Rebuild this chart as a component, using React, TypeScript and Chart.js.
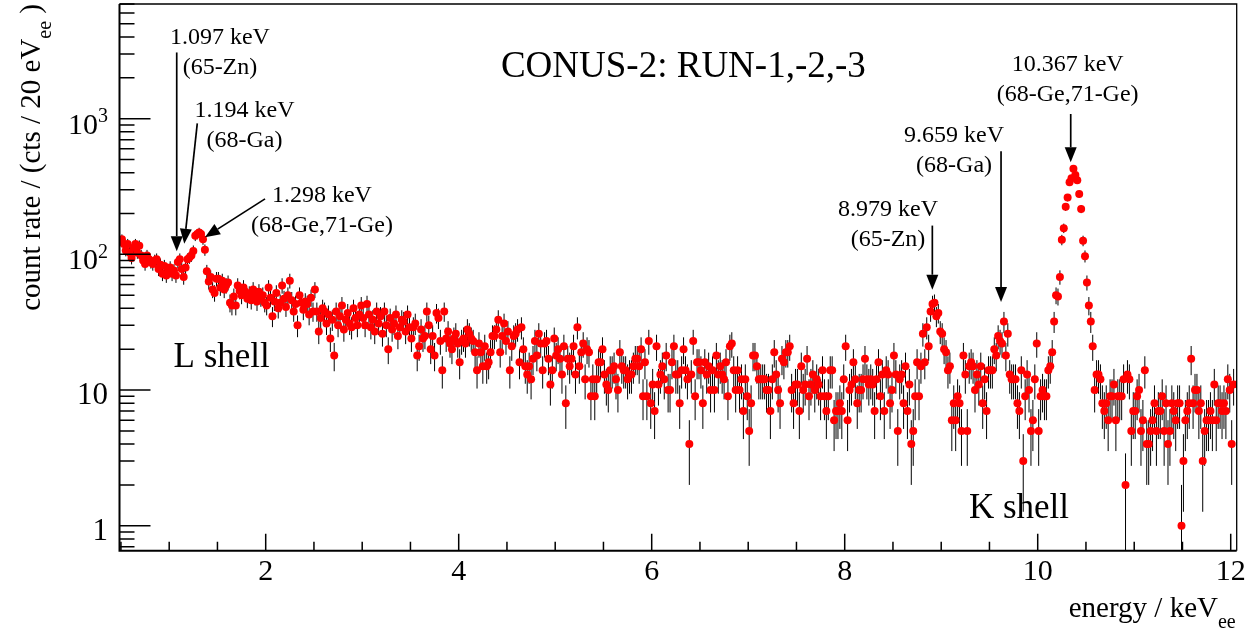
import React, { useEffect, useRef } from "react";
import { Chart, registerables } from "chart.js";

Chart.register(...registerables);

// ---------------- data (counts per 20 eV bin) ----------------
const BIN_START_KEV = 0.5;
const BIN_WIDTH_KEV = 0.02;

// 0.50 - 1.50 keV (L shell region)
const countsL = [
  129, 119, 107, 119, 103, 94, 112, 119, 103, 116, 98, 90, 85, 98, 92, 88, 85, 90, 92, 78, 84, 72, 82, 70, 75,
  80, 72, 76, 70, 88, 92, 78, 68, 80, 92, 95, 98, 106, 137, 141, 145, 141, 129, 108, 75, 63, 68, 55, 52, 66,
];
// 1.50 - 4.00 keV
const countsLow = [
  66, 57, 64, 55, 59, 62, 44, 42, 49, 42, 59, 54, 50, 57, 53, 47, 51, 46, 55, 49, 45, 53, 48, 50, 44,
  42, 57, 48, 35, 45, 52, 40, 44, 59, 47, 41, 50, 64, 46, 38, 43, 30, 50, 44, 39, 45, 43, 36, 48, 38,
  55, 38, 27, 34, 40, 38, 31, 36, 24, 33, 18, 38, 30, 35, 42, 28, 33, 37, 31, 29, 40, 34, 30, 36, 42,
  34, 30, 43, 36, 29, 33, 27, 38, 31, 35, 26, 38, 30, 20, 34, 28, 31, 36, 25, 29, 33, 32, 27, 36, 29,
  24, 29, 31, 18, 21, 28, 24, 25, 38, 30, 20, 25, 18, 37, 34, 23, 14, 38, 24, 27, 22, 20, 24, 26, 22,
];
// 4.00 - 6.50 keV
const countsMid = [
  16, 23, 24, 22, 28, 26, 24, 23, 19, 14, 22, 19, 15, 21, 15, 16, 19, 25, 25, 28, 33, 19, 25, 31, 23,
  27, 14, 21, 25, 26, 28, 16, 29, 20, 15, 13, 15, 12, 17, 23, 18, 26, 22, 14, 22, 23, 17, 11, 14, 24,
  18, 20, 17, 13, 21, 8, 17, 15, 17, 21, 13, 29, 15, 19, 22, 12, 20, 19, 9, 12, 9, 12, 16, 16, 20,
  13, 11, 10, 14, 14, 15, 12, 10, 19, 15, 14, 14, 12, 13, 13, 15, 17, 17, 15, 20, 9, 16, 9, 23, 8,
  11, 7, 21, 11, 13, 15, 12, 18, 10, 10, 16, 21, 13, 13, 8, 14, 20, 14, 12, 4, 13, 23, 9, 16, 16,
];
// 6.50 - 8.50 keV
const countsHigh = [
  14, 8, 16, 13, 15, 10, 14, 10, 18, 13, 15, 13, 12, 16, 9, 21, 22, 14, 10, 14, 10, 12, 7, 12, 9,
  5, 8, 18, 18, 15, 12, 12, 12, 12, 10, 10, 7, 12, 19, 13, 10, 8, 17, 16, 19, 19, 21, 10, 8, 11,
  11, 7, 15, 10, 11, 17, 9, 11, 13, 10, 12, 11, 9, 14, 9, 7, 9, 14, 14, 6, 7, 7, 8, 7, 12,
  21, 6, 10, 11, 16, 12, 8, 10, 10, 12, 17, 12, 11, 12, 11, 7, 12, 16, 9, 13, 7, 14, 13, 8, 10,
];
// 8.50 - 10.00 keV (K shell: 65-Zn, 68-Ga)
const countsK1 = [
  18, 13, 5, 12, 13, 8, 15, 7, 11, 4, 5, 9, 16, 9, 15, 26, 16, 29, 21, 38, 43, 44, 35, 37, 27,
  26, 20, 19, 14, 15, 6, 8, 6, 9, 8, 5, 18, 13, 5, 15, 16, 15, 10, 13, 11, 15, 8, 12, 7, 14,
  14, 14, 20, 18, 25, 23, 22, 32, 18, 26, 13, 12, 12, 12, 8, 7, 14, 3, 9, 13, 10, 5, 6, 12, 22,
];
// 10.00 - 12.04 keV (K shell: 68-Ge, 71-Ge)
const countsK2 = [
  5, 9, 10, 9, 9, 14, 15, 19, 32, 50, 49, 68, 128, 156, 224, 262, 340, 364, 427, 385, 352, 278, 216, 126, 97,
  62, 42, 32, 21, 10, 13, 13, 12, 8, 7, 8, 6, 9, 9, 11, 6, 9, 9, 9, 12, 2, 13, 12, 5, 7,
  7, 9, 10, 5, 6, 14, 4, 4, 5, 6, 8, 5, 7, 7, 9, 5, 8, 4, 5, 8, 7, 6, 8, 8, 1,
  3, 6, 7, 8, 17, 8, 10, 10, 7, 8, 3, 5, 6, 6, 7, 6, 11, 6, 8, 8, 7, 8, 7, 12, 10,
  4, 11,
];

const counts = [...countsL, ...countsLow, ...countsMid, ...countsHigh, ...countsK1, ...countsK2];
const energies = counts.map((_, i) => BIN_START_KEV + BIN_WIDTH_KEV * (i + 0.5));
// statistical (Poisson) uncertainty of each bin
const errors = counts.map((c) => Math.sqrt(c));

// axes
const X_MIN = 0.485;
const X_MAX = 12.062;
const Y_MIN = 0.655;
const Y_MAX = 7000;
const xMajorTicks = [2, 4, 6, 8, 10, 12];
const xMajorLabels = ["2", "4", "6", "8", "10", "12"];
const X_MINOR_STEP = 0.5;
const yMajorTicks = [1, 10, 100, 1000];
const yMajorLabels: [string, string][] = [["1", ""], ["10", ""], ["10", "2"], ["10", "3"]];

// annotations
const titleText = "CONUS-2: RUN-1,-2,-3";
const peakEnergyLabels = ["1.097 keV", "1.194 keV", "1.298 keV", "8.979 keV", "9.659 keV", "10.367 keV"];
const peakSourceLabels = ["(65-Zn)", "(68-Ga)", "(68-Ge,71-Ge)", "(65-Zn)", "(68-Ga)", "(68-Ge,71-Ge)"];
const shellLabels = ["L shell", "K shell"];

// annotation layout (data coordinates: energy keV, count rate)
const peakLabelAnchors: [number, number][] = [
  [1.526, 3546], [1.78, 1022], [2.583, 242], [8.449, 193], [9.133, 669], [10.31, 2229],
];
const arrowTails: [number, number][] = [
  [1.078, 3076], [1.291, 923], [1.993, 256.5], [8.908, 163], [9.62, 575], [10.342, 1083],
];
const arrowTips: [number, number][] = [
  [1.078, 105.6], [1.156, 119.7], [1.371, 133.9], [8.908, 54.9], [9.62, 44.5], [10.342, 477],
];
const titleAnchor: [number, number] = [6.328, 2014];
const shellAnchors: [number, number][] = [[1.544, 14.79], [9.806, 1.134]];

const FONT = '"Liberation Serif", "Times New Roman", Times, serif';

type Part = { t: string; size: number; dy: number };

function drawParts(ctx: CanvasRenderingContext2D, parts: Part[], x: number, y: number, align: "left" | "right" | "center") {
  const widths = parts.map((p) => {
    ctx.font = `${p.size}px ${FONT}`;
    return ctx.measureText(p.t).width;
  });
  const total = widths.reduce((a, b) => a + b, 0);
  let cx = align === "left" ? x : align === "right" ? x - total : x - total / 2;
  ctx.textAlign = "left";
  ctx.textBaseline = "alphabetic";
  parts.forEach((p, i) => {
    ctx.font = `${p.size}px ${FONT}`;
    ctx.fillText(p.t, cx, y + p.dy);
    cx += widths[i];
  });
}

const errorBarPlugin = {
  id: "errorBars",
  beforeDatasetsDraw(chart: any) {
    const { ctx, chartArea, scales } = chart;
    const xs = scales.x;
    const ys = scales.y;
    ctx.save();
    ctx.beginPath();
    ctx.rect(chartArea.left, chartArea.top, chartArea.right - chartArea.left, chartArea.bottom - chartArea.top);
    ctx.clip();
    ctx.strokeStyle = "#000";
    ctx.lineWidth = 1;
    ctx.beginPath();
    for (let i = 0; i < counts.length; i++) {
      const px = xs.getPixelForValue(energies[i]);
      const hi = counts[i] + errors[i];
      const lo = counts[i] - errors[i];
      const pyHi = ys.getPixelForValue(hi);
      const pyLo = lo > Y_MIN ? ys.getPixelForValue(lo) : chartArea.bottom;
      ctx.moveTo(px, pyLo);
      ctx.lineTo(px, pyHi);
    }
    ctx.stroke();
    ctx.restore();
  },
};

function drawArrow(ctx: CanvasRenderingContext2D, x1: number, y1: number, x2: number, y2: number) {
  const ang = Math.atan2(y2 - y1, x2 - x1);
  const headLen = 15;
  const headHalf = 6;
  const bx = x2 - headLen * Math.cos(ang);
  const by = y2 - headLen * Math.sin(ang);
  ctx.beginPath();
  ctx.moveTo(x1, y1);
  ctx.lineTo(bx, by);
  ctx.stroke();
  ctx.beginPath();
  ctx.moveTo(x2, y2);
  ctx.lineTo(bx + headHalf * Math.sin(ang), by - headHalf * Math.cos(ang));
  ctx.lineTo(bx - headHalf * Math.sin(ang), by + headHalf * Math.cos(ang));
  ctx.closePath();
  ctx.fill();
}

const framePlugin = {
  id: "rootFrame",
  afterDraw(chart: any) {
    const { ctx, chartArea, scales } = chart;
    const xs = scales.x;
    const ys = scales.y;
    const { left, right, top, bottom } = chartArea;
    ctx.save();
    ctx.strokeStyle = "#000";
    ctx.fillStyle = "#000";

    // frame
    ctx.lineWidth = 1.3;
    ctx.beginPath();
    ctx.moveTo(left, top);
    ctx.lineTo(right, top);
    ctx.lineTo(right, bottom);
    ctx.stroke();
    ctx.lineWidth = 2;
    ctx.beginPath();
    ctx.moveTo(left, top);
    ctx.lineTo(left, bottom);
    ctx.lineTo(right, bottom);
    ctx.stroke();

    // x ticks (inward)
    ctx.lineWidth = 1.5;
    ctx.beginPath();
    for (let v = Math.ceil(X_MIN / X_MINOR_STEP) * X_MINOR_STEP; v <= X_MAX + 1e-9; v += X_MINOR_STEP) {
      const px = xs.getPixelForValue(v);
      const isMajor = xMajorTicks.some((m) => Math.abs(m - v) < 1e-6);
      const len = isMajor ? 17 : 9;
      ctx.moveTo(px, bottom);
      ctx.lineTo(px, bottom - len);
    }
    ctx.stroke();

    // y ticks (inward)
    ctx.beginPath();
    for (let d = -1; d <= 4; d++) {
      for (let m = 1; m <= 9; m++) {
        const v = m * Math.pow(10, d);
        if (v < Y_MIN || v > Y_MAX) continue;
        const py = ys.getPixelForValue(v);
        const len = m === 1 ? 31 : 15;
        ctx.moveTo(left, py);
        ctx.lineTo(left + len, py);
      }
    }
    ctx.stroke();

    // x tick labels
    ctx.textAlign = "center";
    ctx.textBaseline = "alphabetic";
    ctx.font = `30px ${FONT}`;
    xMajorTicks.forEach((v, i) => {
      ctx.fillText(xMajorLabels[i], xs.getPixelForValue(v), bottom + 29.3);
    });

    // y tick labels
    yMajorTicks.forEach((v, i) => {
      const py = ys.getPixelForValue(v);
      const [base, exp] = yMajorLabels[i];
      if (exp) {
        drawParts(ctx, [{ t: base, size: 30, dy: 15 }, { t: exp, size: 20, dy: 3.7 }], left - 11.5, py, "right");
      } else {
        drawParts(ctx, [{ t: base, size: 31, dy: 14 }], left - 11.5, py, "right");
      }
    });

    // axis titles
    drawParts(
      ctx,
      [{ t: "energy / keV", size: 29, dy: 0 }, { t: "ee", size: 20, dy: 11.3 }],
      right - 1,
      bottom + 66,
      "right"
    );
    ctx.save();
    ctx.translate(left - 79.5, top);
    ctx.rotate(-Math.PI / 2);
    drawParts(
      ctx,
      [
        { t: "count rate / (cts / 20 eV", size: 29, dy: 0 },
        { t: "ee", size: 20, dy: 11.3 },
        { t: " )", size: 29, dy: 0 },
      ],
      0,
      0,
      "right"
    );
    ctx.restore();

    // title
    drawParts(ctx, [{ t: titleText, size: 37, dy: 0 }], xs.getPixelForValue(titleAnchor[0]), ys.getPixelForValue(titleAnchor[1]), "center");

    // shell labels
    shellLabels.forEach((s, i) => {
      drawParts(ctx, [{ t: s, size: 35, dy: 0 }], xs.getPixelForValue(shellAnchors[i][0]), ys.getPixelForValue(shellAnchors[i][1]), "center");
    });

    // peak labels + arrows
    peakEnergyLabels.forEach((lab, i) => {
      const cx = xs.getPixelForValue(peakLabelAnchors[i][0]);
      const cy = ys.getPixelForValue(peakLabelAnchors[i][1]);
      drawParts(ctx, [{ t: lab, size: 24, dy: 0 }], cx, cy, "center");
      drawParts(ctx, [{ t: peakSourceLabels[i], size: 24, dy: 30 }], cx, cy, "center");
    });
    ctx.lineWidth = 1.7;
    arrowTails.forEach((t, i) => {
      drawArrow(
        ctx,
        xs.getPixelForValue(t[0]),
        ys.getPixelForValue(t[1]),
        xs.getPixelForValue(arrowTips[i][0]),
        ys.getPixelForValue(arrowTips[i][1])
      );
    });

    ctx.restore();
  },
};

export default function App() {
  const canvasRef = useRef<HTMLCanvasElement | null>(null);

  useEffect(() => {
    const canvas = canvasRef.current;
    if (!canvas) return;
    const chart = new Chart(canvas, {
      type: "scatter",
      data: {
        datasets: [
          {
            data: energies.map((e, i) => ({ x: e, y: counts[i] })),
            backgroundColor: "#ff0000",
            borderWidth: 0,
            pointRadius: 4,
            pointHoverRadius: 4,
          },
        ],
      },
      options: {
        animation: false,
        responsive: false,
        devicePixelRatio: 1,
        events: [],
        layout: { padding: { left: 119.5, right: 23.3, top: 3, bottom: 82.3 } },
        scales: {
          x: { type: "linear", min: X_MIN, max: X_MAX, display: false },
          y: { type: "logarithmic", min: Y_MIN, max: Y_MAX, display: false },
        },
        plugins: {
          legend: { display: false },
          tooltip: { enabled: false },
        },
      },
      plugins: [errorBarPlugin, framePlugin],
    } as any);
    return () => chart.destroy();
  }, []);

  return (
    <div style={{ position: "absolute", left: 0, top: 0, width: 1260, height: 633, background: "#fff" }}>
      <canvas ref={canvasRef} width={1260} height={633} style={{ display: "block", width: 1260, height: 633 }} />
    </div>
  );
}
